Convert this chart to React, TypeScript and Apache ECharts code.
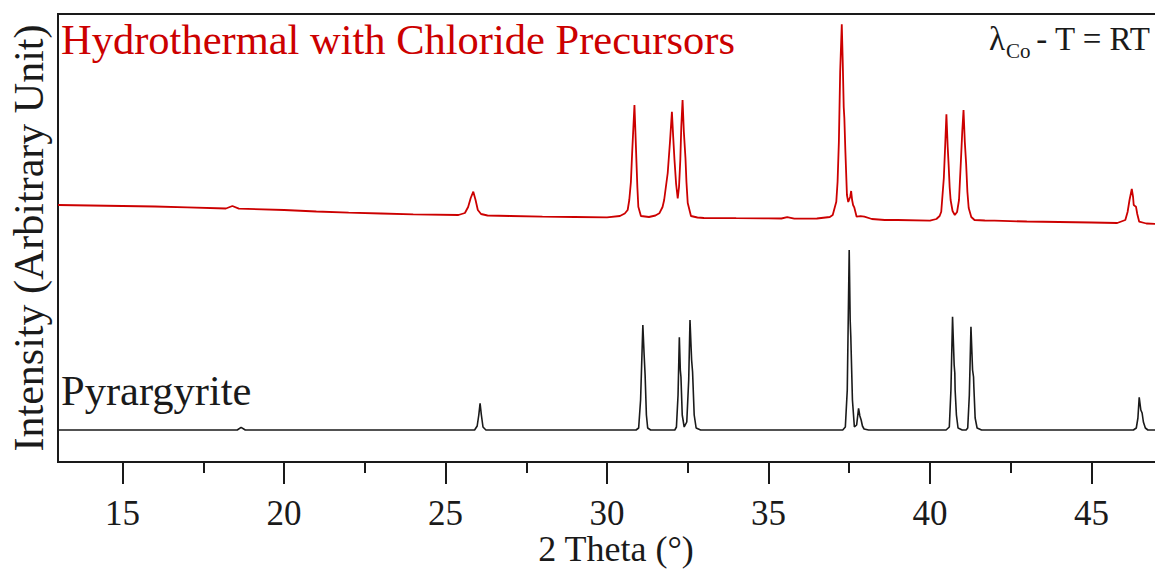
import React, { useEffect, useRef } from "react";
import * as echarts from "echarts";

// ---- Data (2θ in degrees, intensity in arbitrary units) ----
const majorTicks = [15, 20, 25, 30, 35, 40, 45];
const minorTicks = [17.5, 22.5, 27.5, 32.5, 37.5, 42.5];

// Hydrothermal with Chloride Precursors (absolute plotted intensity)
const hydroX = [
  13.0, 14.0, 15.0, 16.0, 17.0, 18.2, 18.4, 18.6, 20.0, 21.0, 22.0, 23.0, 24.0, 25.4, 25.6, 25.7, 25.78, 25.86, 25.93, 26.0,
  26.1, 26.3, 27.0, 28.0, 29.0, 30.0, 30.4, 30.55, 30.64, 30.69, 30.74, 30.78, 30.85, 30.88, 30.91, 30.94, 30.97, 31.05, 31.3, 31.5,
  31.62, 31.72, 31.77, 31.88, 31.95, 32.01, 32.05, 32.09, 32.14, 32.19, 32.23, 32.27, 32.3, 32.34, 32.38, 32.43, 32.46, 32.5, 32.6, 32.8,
  33.0, 34.0, 35.0, 35.4, 35.58, 35.8, 36.5, 36.9, 36.99, 37.1, 37.14, 37.18, 37.22, 37.27, 37.3, 37.33, 37.35, 37.38, 37.43, 37.47,
  37.53, 37.56, 37.59, 37.62, 37.66, 37.73, 37.85, 37.97, 38.2, 38.6, 39.0, 40.0, 40.2, 40.3, 40.35, 40.43, 40.47, 40.51, 40.55, 40.58,
  40.61, 40.64, 40.7, 40.77, 40.84, 40.9, 40.96, 41.0, 41.04, 41.08, 41.12, 41.16, 41.2, 41.28, 41.38, 41.7, 42.0, 43.0, 44.0, 45.0,
  45.8, 46.05, 46.12, 46.18, 46.25, 46.29, 46.31, 46.35, 46.38, 46.42, 46.48, 46.7, 47.0,
];
const hydroY = [
  257, 256.5, 256, 255.5, 254.7, 253.5, 256, 253.3, 252, 250.5, 249.3, 248.5, 247.7, 247, 249, 255, 264, 270.3, 262, 252,
  248, 246.5, 246, 245.3, 245, 244.7, 246, 248.5, 252, 262, 280, 310, 357, 330, 302, 275, 255.3, 246, 245, 246.5,
  248.7, 255, 262, 289, 320, 350.3, 325, 302, 278, 263.7, 275, 302, 335, 362, 330, 303.7, 280, 259, 246, 244.5,
  244, 243.8, 243.7, 243.5, 244.8, 243.3, 243.5, 245, 247, 260.3, 280.3, 320, 390, 437.7, 400, 355, 343.7, 312, 267, 260,
  265, 271, 262, 257, 254.3, 245.3, 245.8, 245.3, 243, 242, 242, 241.3, 243, 246, 250.3, 284, 315, 347.7, 315, 296.3,
  275, 262, 251, 247, 250, 262, 302, 330, 352, 320, 298.7, 270, 254, 245, 242, 241.5, 241.3, 240.5, 240, 239.5,
  239, 242, 250, 262, 273, 265, 257, 256, 255.3, 248, 240.3, 238.5, 238,
];

// Pyrargyrite reference pattern (relative intensity above its baseline)
const pyrX = [
  13.0, 18.55, 18.67, 18.8, 25.9, 25.98, 26.03, 26.07, 26.11, 26.16, 26.25,
  30.9, 30.98, 31.04, 31.11, 31.15, 31.18, 31.22, 31.26, 31.35,
  32.1, 32.15, 32.2, 32.24, 32.27, 32.29, 32.33, 32.39, 32.47, 32.53, 32.57, 32.62, 32.65, 32.7, 32.76, 32.9,
  37.3, 37.38, 37.44, 37.5, 37.53, 37.55, 37.56, 37.6, 37.66, 37.73, 37.79, 37.83, 37.87, 37.91, 37.96, 38.1,
  40.5, 40.6, 40.65, 40.7, 40.75, 40.77, 40.78, 40.82, 40.87, 41.0,
  41.12, 41.17, 41.22, 41.27, 41.32, 41.35, 41.36, 41.4, 41.46, 41.6,
  46.3, 46.39, 46.44, 46.48, 46.53, 46.57, 46.61, 46.67, 46.75, 47.0,
];
const pyrY = [
  0, 0, 2.7, 0, 0, 4, 15, 26.7, 15, 3, 0,
  0, 2, 30, 105, 75, 55, 15, 2, 0,
  0, 3, 35, 92.7, 60, 53, 15, 3, 8, 50, 110, 70, 58, 15, 2, 0,
  0, 3, 40, 180, 110, 93, 80, 30, 3, 5, 21.7, 14, 10, 4, 1, 0,
  0, 3, 40, 113.3, 65, 57, 40, 15, 2, 0,
  0, 2, 35, 103.3, 60, 53, 43, 12, 2, 0,
  0, 2, 12, 32.7, 20, 17, 8, 2, 0, 0,
];

const PYR_OFFSET = 32;
const RED = "#cc0000";
const INK = "#1a1a1a";
const SERIF = "'Liberation Serif', 'Times New Roman', serif";

export default function App() {
  const ref = useRef<HTMLDivElement>(null);

  useEffect(() => {
    if (!ref.current) return;
    const chart = echarts.init(ref.current, undefined, { renderer: "svg" });

    const hydroData = hydroX.map((x, i) => [x, hydroY[i]]);
    const pyrData = pyrX.map((x, i) => [x, pyrY[i] + PYR_OFFSET]);

    chart.setOption({
      animation: false,
      backgroundColor: "#ffffff",
      grid: {
        left: 58,
        top: 14,
        right: -1,
        bottom: 107,
        containLabel: false,
        outerBoundsMode: "none",
        show: true,
        borderColor: INK,
        borderWidth: 2,
        backgroundColor: "transparent",
      },
      xAxis: [
        {
          type: "value",
          min: 13,
          max: 47,
          position: "bottom",
          name: "2 Theta (°)",
          nameLocation: "middle",
          nameGap: 72,
          nameMoveOverlap: false,
          nameTextStyle: {
            fontFamily: SERIF,
            fontSize: 36,
            lineHeight: 30,
            color: INK,
            padding: [0, 0, 0, 18],
          },
          axisLine: { show: false },
          splitLine: { show: false },
          axisTick: {
            show: true,
            inside: false,
            length: 22,
            customValues: majorTicks,
            lineStyle: { color: INK, width: 2 },
          },
          axisLabel: {
            show: true,
            customValues: majorTicks,
            margin: 36,
            lineHeight: 30,
            fontFamily: SERIF,
            fontSize: 35,
            color: INK,
          },
        },
        {
          type: "value",
          min: 13,
          max: 47,
          position: "bottom",
          offset: 0,
          axisLine: { show: false },
          splitLine: { show: false },
          axisTick: {
            show: true,
            inside: false,
            length: 11,
            customValues: minorTicks,
            lineStyle: { color: INK, width: 2 },
          },
          axisLabel: { show: false },
        },
      ],
      yAxis: {
        type: "value",
        min: 0,
        max: 448,
        name: "Intensity (Arbitrary Unit)",
        nameLocation: "middle",
        nameGap: 8,
        nameMoveOverlap: false,
        nameTextStyle: { fontFamily: SERIF, fontSize: 42, color: INK },
        axisLine: { show: false },
        axisTick: { show: false },
        axisLabel: { show: false },
        splitLine: { show: false },
      },
      graphic: [
        {
          type: "text",
          left: 61,
          top: 18,
          style: {
            text: "Hydrothermal with Chloride Precursors",
            fill: RED,
            font: `42.5px ${SERIF}`,
          },
        },
        {
          type: "text",
          left: 61,
          top: 369,
          style: {
            text: "Pyrargyrite",
            fill: INK,
            font: `42.5px ${SERIF}`,
          },
        },
        {
          type: "text",
          left: 989,
          top: 22,
          style: { text: "λ", fill: INK, font: `33px ${SERIF}` },
        },
        {
          type: "text",
          left: 1006,
          top: 40,
          style: { text: "Co", fill: INK, font: `21px ${SERIF}` },
        },
        {
          type: "text",
          right: 4,
          top: 22,
          style: { text: "- T = RT", fill: INK, font: `33px ${SERIF}` },
        },
      ],
      series: [
        {
          name: "Hydrothermal with Chloride Precursors",
          type: "line",
          xAxisIndex: 0,
          data: hydroData,
          showSymbol: false,
          symbol: "none",
          lineStyle: { color: RED, width: 1.8 },
          itemStyle: { color: RED },
          z: 3,
        },
        {
          name: "Pyrargyrite",
          type: "line",
          xAxisIndex: 0,
          data: pyrData,
          showSymbol: false,
          symbol: "none",
          lineStyle: { color: INK, width: 1.6 },
          itemStyle: { color: INK },
          z: 3,
        },
      ],
    });

    return () => chart.dispose();
  }, []);

  return (
    <div
      ref={ref}
      style={{ position: "fixed", left: 0, top: 0, width: 1155, height: 569 }}
    />
  );
}
